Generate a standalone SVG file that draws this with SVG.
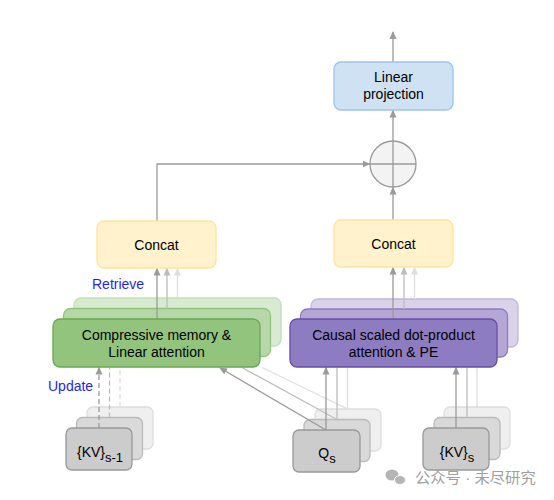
<svg xmlns="http://www.w3.org/2000/svg" width="554" height="500" viewBox="0 0 554 500">
<defs>
<style>
text{font-family:"Liberation Sans",Arial,sans-serif;font-size:14px;fill:#000}
.lbl{fill:#1f1fff}
.c1{stroke:#9a9a9a;stroke-width:1.3;fill:none}
.c2{stroke:#bdbdbd;stroke-width:1.3;fill:none}
.c3{stroke:#dedede;stroke-width:1.3;fill:none}
.d{stroke-dasharray:5 3}
.g1{fill:#93c47d;stroke:#6aa84f;stroke-width:1.3}
.g2{fill:#b6d7a8;stroke:#93c47d;stroke-width:1.3}
.g3{fill:#d9ead3;stroke:#c2dfb5;stroke-width:1.3}
.p1{fill:#8e7cc3;stroke:#674ea7;stroke-width:1.3}
.p2{fill:#b4a7d6;stroke:#8e7cc3;stroke-width:1.3}
.p3{fill:#d9d2e9;stroke:#c1b6de;stroke-width:1.3}
.k1{fill:#cccccc;stroke:#999999;stroke-width:1.3}
.k2{fill:#d9d9d9;stroke:#bbbbbb;stroke-width:1.3}
.k3{fill:#efefef;stroke:#dddddd;stroke-width:1.3}
.y{fill:#fff2cc;stroke:#ffe599;stroke-width:1.3}
.b{fill:#cfe2f3;stroke:#9fc5e8;stroke-width:1.3}
</style>
<marker id="a1" markerWidth="8" markerHeight="8" refX="7" refY="4" orient="auto" markerUnits="userSpaceOnUse"><path d="M0,0.5 L8,4 L0,7.5 z" fill="#9a9a9a"/></marker>
<marker id="a2" markerWidth="8" markerHeight="8" refX="7" refY="4" orient="auto" markerUnits="userSpaceOnUse"><path d="M0,0.5 L8,4 L0,7.5 z" fill="#bdbdbd"/></marker>
<marker id="a3" markerWidth="8" markerHeight="8" refX="7" refY="4" orient="auto" markerUnits="userSpaceOnUse"><path d="M0,0.5 L8,4 L0,7.5 z" fill="#dedede"/></marker>
</defs>
<rect width="554" height="500" fill="#ffffff"/>

<g id="memory-stack-back">
<rect class="g3" x="74" y="298" width="207" height="48" rx="7"/>
<rect class="g2" x="63.5" y="308.5" width="207" height="48" rx="7"/>
</g>
<g id="attention-stack-back">
<rect class="p3" x="311" y="299" width="207" height="48" rx="7"/>
<rect class="p2" x="300.5" y="309" width="207" height="48" rx="7"/>
</g>
<g id="kv-prev-stack-back">
<rect class="k3" x="87" y="407" width="66" height="42" rx="6"/>
<rect class="k2" x="76.5" y="417.5" width="66" height="42" rx="6"/>
</g>
<g id="q-stack-back">
<rect class="k3" x="315" y="409" width="66" height="42" rx="6"/>
<rect class="k2" x="304" y="419.5" width="66" height="42" rx="6"/>
</g>
<g id="kv-stack-back">
<rect class="k3" x="444" y="407" width="66" height="42" rx="6"/>
<rect class="k2" x="434" y="417.5" width="66" height="42" rx="6"/>
</g>

<g id="connectors">
<line class="c1" x1="393" y1="62" x2="393" y2="32" marker-end="url(#a1)"/>
<line class="c1" x1="393" y1="141" x2="393" y2="110.5" marker-end="url(#a1)"/>
<line class="c1" x1="393" y1="220" x2="393" y2="187.5" marker-end="url(#a1)"/>
<polyline class="c1" points="157,221 157,164 369.5,164" marker-end="url(#a1)"/>
<line class="c1" x1="157" y1="319" x2="157" y2="268.5" marker-end="url(#a1)"/>
<line class="c2" x1="167" y1="308.5" x2="167" y2="268.5" marker-end="url(#a2)"/>
<line class="c3" x1="177.5" y1="298" x2="177.5" y2="268.5" marker-end="url(#a3)"/>
<line class="c1" x1="393" y1="319" x2="393" y2="267.5" marker-end="url(#a1)"/>
<line class="c2" x1="404" y1="309" x2="404" y2="267.5" marker-end="url(#a2)"/>
<line class="c3" x1="414.5" y1="299" x2="414.5" y2="267.5" marker-end="url(#a3)"/>
<line class="c1 d" x1="99" y1="428" x2="99" y2="367.5" marker-end="url(#a1)"/>
<line class="c2 d" x1="109.5" y1="417.5" x2="109.5" y2="367.5"/>
<line class="c3 d" x1="120" y1="407" x2="120" y2="367.5"/>
<line class="c3" x1="347.5" y1="409" x2="262" y2="367.5"/>
<line class="c2" x1="337" y1="419.5" x2="242" y2="367.5"/>
<line class="c1" x1="326" y1="430" x2="220" y2="368" marker-end="url(#a1)"/>
<line class="c1" x1="326" y1="430" x2="326" y2="367.5" marker-end="url(#a1)"/>
<line class="c2" x1="337" y1="419.5" x2="337" y2="367.5"/>
<line class="c3" x1="347.5" y1="409" x2="347.5" y2="367.5"/>
<line class="c1" x1="456" y1="428" x2="456" y2="367.5" marker-end="url(#a1)"/>
<line class="c2" x1="467" y1="417.5" x2="467" y2="367.5"/>
<line class="c3" x1="477" y1="407" x2="477" y2="367.5"/>
</g>

<g id="linear-projection">
<rect class="b" x="334" y="62" width="119" height="48" rx="7"/>
<text x="393.5" y="82" text-anchor="middle">Linear</text>
<text x="393.5" y="99" text-anchor="middle">projection</text>
</g>
<g id="sum">
<circle cx="393" cy="164" r="23" fill="#f3f3f3" stroke="#9a9a9a" stroke-width="1.3"/>
<line x1="370" y1="164" x2="416" y2="164" stroke="#9a9a9a" stroke-width="1.3"/>
<line x1="393" y1="141" x2="393" y2="187" stroke="#9a9a9a" stroke-width="1.3"/>
</g>
<g id="concat-left">
<rect class="y" x="97" y="221" width="119" height="47" rx="7"/>
<text x="156.5" y="250" text-anchor="middle">Concat</text>
</g>
<g id="concat-right">
<rect class="y" x="334" y="220" width="119" height="47" rx="7"/>
<text x="393.5" y="249" text-anchor="middle">Concat</text>
</g>
<g id="memory">
<rect class="g1" x="53" y="319" width="207" height="48" rx="7"/>
<text x="156.5" y="340" text-anchor="middle">Compressive memory &amp;</text>
<text x="156.5" y="357" text-anchor="middle">Linear attention</text>
</g>
<g id="attention">
<rect class="p1" x="290" y="319" width="207" height="48" rx="7"/>
<text x="393.5" y="340" text-anchor="middle">Causal scaled dot-product</text>
<text x="393.5" y="357" text-anchor="middle">attention &amp; PE</text>
</g>
<g id="kv-prev">
<rect class="k1" x="66" y="428" width="66" height="42" rx="6"/>
<text x="100" y="457" text-anchor="middle">{KV}<tspan dy="5" font-size="13">s-1</tspan></text>
</g>
<g id="q">
<rect class="k1" x="293" y="430" width="67" height="42" rx="6"/>
<text x="327" y="458" text-anchor="middle">Q<tspan dy="5" font-size="13">s</tspan></text>
</g>
<g id="kv">
<rect class="k1" x="423" y="428" width="66" height="42" rx="6"/>
<text x="457" y="457" text-anchor="middle">{KV}<tspan dy="5" font-size="13">s</tspan></text>
</g>
<g id="labels">
<text class="lbl" x="92" y="289">Retrieve</text>
<text class="lbl" x="48" y="391">Update</text>
</g>
<g id="watermark">
<ellipse cx="392" cy="475" rx="6.5" ry="5.5" fill="#b5b5b5"/>
<ellipse cx="400" cy="480" rx="5.5" ry="4.5" fill="#b5b5b5" stroke="#fff" stroke-width="1"/>
<text x="415" y="483" style="font-family:'Liberation Sans','Noto Sans CJK SC',sans-serif;fill:#a0a0a0;font-size:15.3px">公众号 · 未尽研究</text>
</g>
</svg>
